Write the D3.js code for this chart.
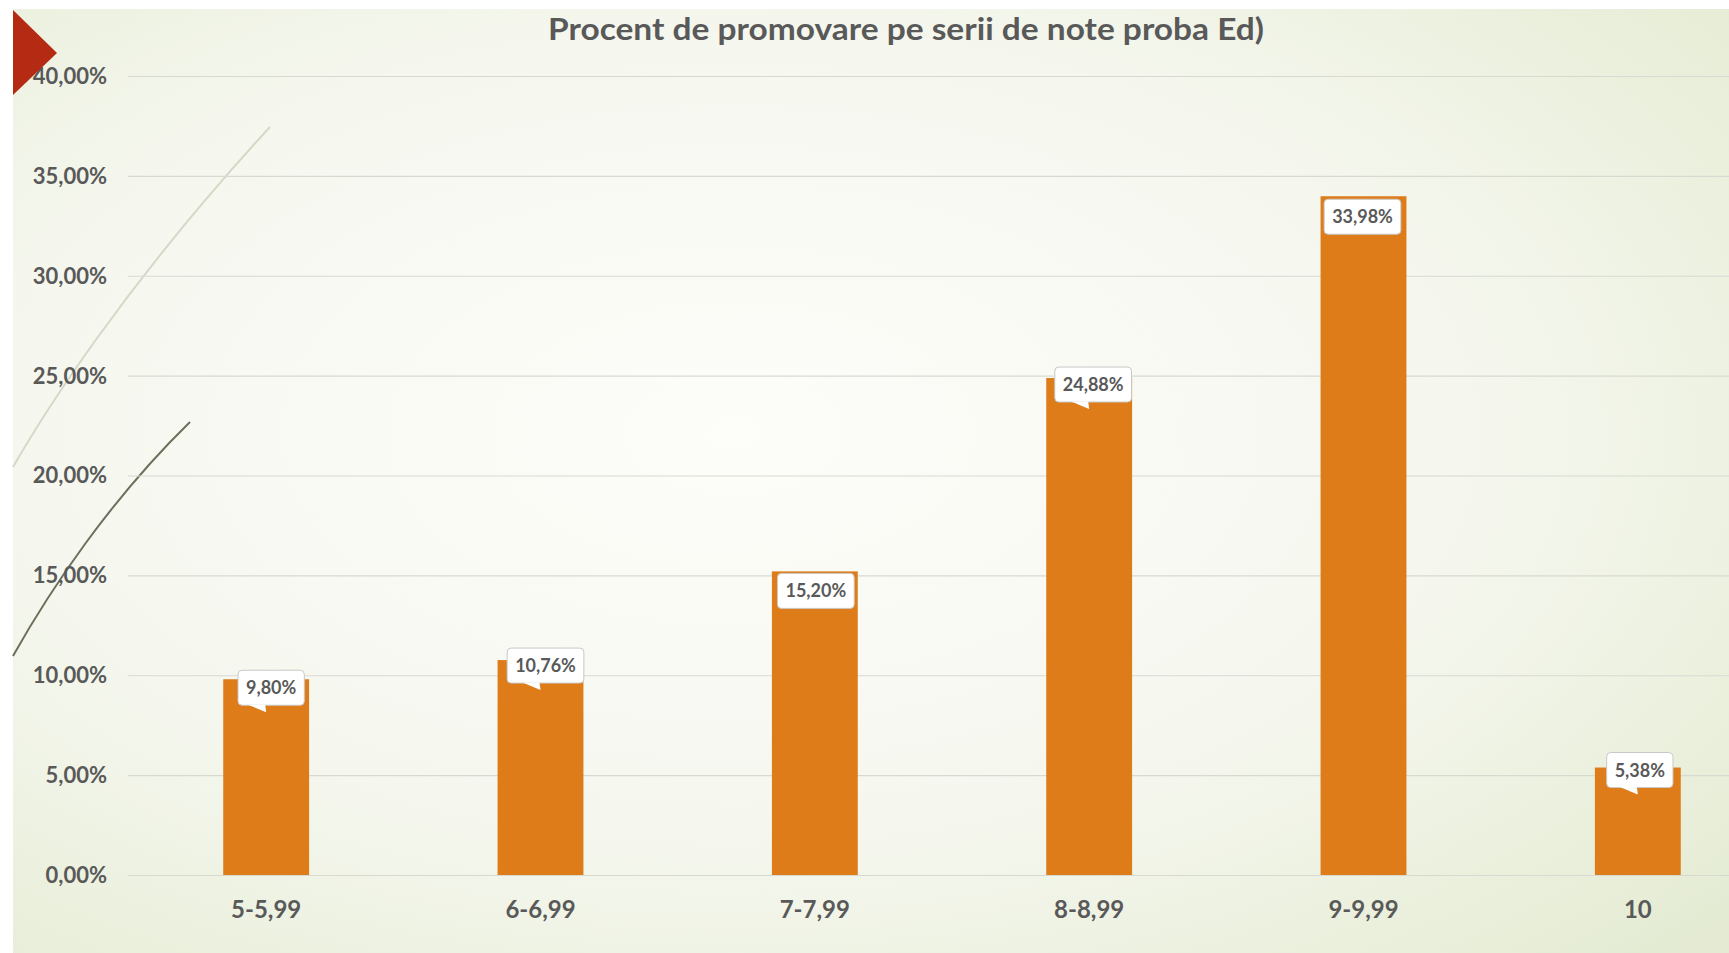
<!DOCTYPE html>
<html><head><meta charset="utf-8">
<script src="https://cdn.jsdelivr.net/npm/d3@7"></script>
<style>html,body{margin:0;padding:0;background:#fff;}svg{display:block;}</style>
</head><body>
<script>
const categories = ["5-5,99","6-6,99","7-7,99","8-8,99","9-9,99","10"];
const values = [9.80, 10.76, 15.20, 24.88, 33.98, 5.38];
const valueLabels = ["9,80%","10,76%","15,20%","24,88%","33,98%","5,38%"];
const yTicks = [0,5,10,15,20,25,30,35,40];
const yTickLabels = ["0,00%","5,00%","10,00%","15,00%","20,00%","25,00%","30,00%","35,00%","40,00%"];
const title = "Procent de promovare pe serii de note proba Ed)";

// callout placement (pixels relative to bar top / bar centre), as in the original
const calloutDy = [-9, -12, 2, -11, 3, -15];
const calloutDx = [5, 5, 1, 4, -1, 2];

const W = 1729, H = 953;
const svg = d3.select("body").append("svg").attr("width", W).attr("height", H);
const defs = svg.append("defs");
const rg = defs.append("radialGradient").attr("id","bg").attr("cx","42%").attr("cy","45%").attr("r","78%");
rg.append("stop").attr("offset","0%").attr("stop-color","#fdfdfa");
rg.append("stop").attr("offset","55%").attr("stop-color","#f5f7ee");
rg.append("stop").attr("offset","100%").attr("stop-color","#e4ebd2");
svg.append("rect").attr("x",13).attr("y",9).attr("width",W-13).attr("height",H-9).attr("fill","url(#bg)");

// decorative curves
svg.append("path").attr("d","M13,467 C40,420 120,290 270,127").attr("fill","none").attr("stroke","#d6d8c6").attr("stroke-width",2);
svg.append("path").attr("d","M13,656 C50,590 110,500 190,422").attr("fill","none").attr("stroke","#6e6e5c").attr("stroke-width",2);

const x = d3.scaleBand().domain(categories).range([129, 1775]).paddingInner(0.687).paddingOuter(0.3435);
const y = d3.scaleLinear().domain([0,40]).range([875, 76]);

// gridlines
svg.append("g").selectAll("line").data(yTicks).join("line")
  .attr("x1",128).attr("x2",W).attr("y1",d=>y(d)+0.5).attr("y2",d=>y(d)+0.5)
  .attr("stroke","#d8dad2").attr("stroke-width",1.2);

// y labels
svg.append("g").selectAll("text").data(yTicks).join("text")
  .attr("x",107).attr("y",d=>y(d)).attr("dy","0.36em").attr("text-anchor","end")
  .attr("font-family","Lato, sans-serif").attr("font-size",22).attr("font-weight","bold")
  .attr("fill","#595959").text((d,i)=>yTickLabels[i]);

// red triangle
svg.append("path").attr("d","M13,10 L57,53 L13,95 Z").attr("fill","#b52a12");

// bars
svg.append("g").selectAll("rect").data(values).join("rect")
  .attr("x",(d,i)=>x(categories[i])).attr("width",x.bandwidth())
  .attr("y",d=>y(d)).attr("height",d=>y(0)-y(d))
  .attr("fill","#dd7c19");

// x labels
svg.append("g").selectAll("text").data(categories).join("text")
  .attr("x",d=>x(d)+x.bandwidth()/2).attr("y",918).attr("text-anchor","middle")
  .attr("font-family","Lato, sans-serif").attr("font-size",24).attr("font-weight","bold")
  .attr("fill","#595959").text(d=>d);

// data labels (callouts)
const lg = svg.append("g");
values.forEach((v,i)=>{
  const cx = x(categories[i]) + x.bandwidth()/2;
  const g = lg.append("g");
  const t = g.append("text").attr("font-family","Lato, sans-serif").attr("font-size",18).attr("font-weight","bold")
    .attr("fill","#595959").attr("text-anchor","middle").text(valueLabels[i]);
  const tw = t.node().getComputedTextLength();
  const bw = tw + 16, bh = 35;
  const bcx = cx + calloutDx[i];
  const bx = bcx - bw/2, by = y(v) + calloutDy[i];
  g.insert("rect","text").attr("x",bx).attr("y",by).attr("width",bw).attr("height",bh).attr("rx",4)
    .attr("fill","#ffffff").attr("stroke","#c8c8c8").attr("stroke-width",1);
  if (calloutDy[i] < 0) {
    g.insert("path","text").attr("d",`M${cx-18},${by+bh-0.5} L${cx},${by+bh+7} L${cx-1},${by+bh-0.5} Z`).attr("fill","#ffffff");
  }
  t.attr("x",bcx).attr("y",by+bh/2).attr("dy","0.36em");
});

// title
const tt = svg.append("text").attr("x",906).attr("y",40).attr("text-anchor","middle")
  .attr("font-family","Lato, sans-serif").attr("font-size",30).attr("font-weight","bold")
  .attr("fill","#595959").text(title);
tt.attr("textLength",716).attr("lengthAdjust","spacingAndGlyphs");
</script>
</body></html>
